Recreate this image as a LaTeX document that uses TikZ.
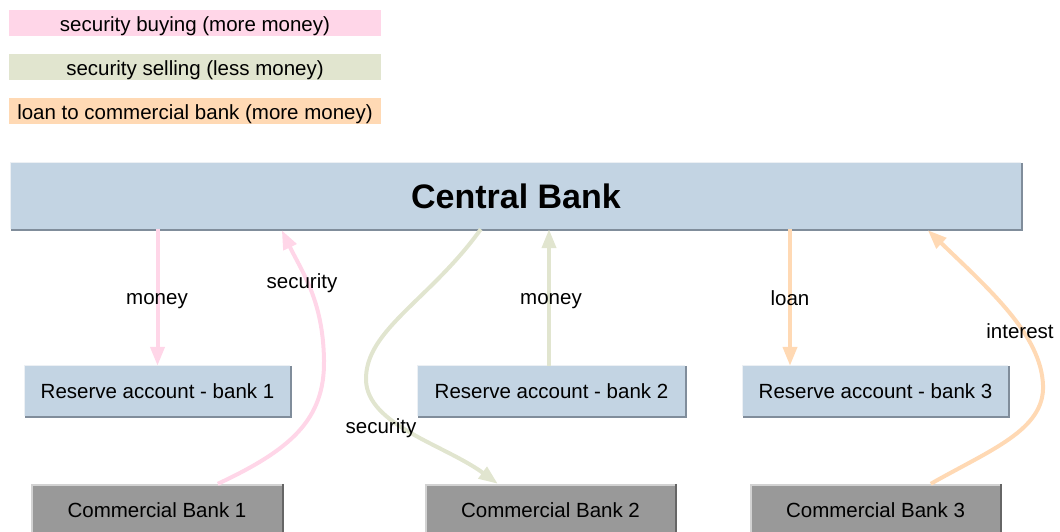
\documentclass[tikz,border=0pt]{standalone}
\usepackage{fontspec}
\setmainfont{Liberation Sans}
\usetikzlibrary{arrows.meta,calc}
\definecolor{boxblue}{RGB}{195,212,227}
\definecolor{blueshadow}{RGB}{128,141,155}
\definecolor{bluelight}{RGB}{236,240,244}
\definecolor{combox}{RGB}{153,153,153}
\definecolor{comshadow}{RGB}{102,102,102}
\definecolor{comlight}{RGB}{210,210,210}
\definecolor{pinkc}{RGB}{255,214,232}
\definecolor{greenc}{RGB}{225,229,207}
\definecolor{orangec}{RGB}{255,217,180}
\tikzset{
  txt/.style={font=\fontsize{20.5}{24}\selectfont},
  legendbox/.style={rectangle, inner sep=0pt, minimum width=372pt, minimum height=26pt, txt, text height=16.5pt, text depth=0pt},
  bluebox/.style={rectangle, fill=boxblue, inner sep=0pt, minimum height=50pt, txt},
  graybox/.style={rectangle, fill=combox, inner sep=0pt, minimum height=52pt, txt},
  flow/.style={line width=4pt, -{Triangle[length=19pt,width=14pt]}},
  lbl/.style={txt, inner sep=0pt}
}
\begin{document}
\begin{tikzpicture}[x=1pt,y=-1pt]
\useasboundingbox (0,0) rectangle (1060,532);
% legend
\node[legendbox, fill=pinkc] (l1) at (195,23) {security buying (more money)};
\node[legendbox, fill=greenc] (l2) at (195,67) {security selling (less money)};
\node[legendbox, fill=orangec] (l3) at (195,111) {loan to commercial bank (more money)};
% central bank
\node[bluebox, minimum width=1010pt, minimum height=66pt, font=\fontsize{34}{39}\selectfont\bfseries] (cb) at (516,196) {Central Bank};
% reserve accounts
\node[bluebox, minimum width=265pt] (r1) at (157.5,391) {Reserve account - bank 1};
\node[bluebox, minimum width=267pt] (r2) at (551.5,391) {Reserve account - bank 2};
\node[bluebox, minimum width=265pt] (r3) at (875.5,391) {Reserve account - bank 3};
% commercial banks
\node[graybox, minimum width=250pt] (c1) at (157,510) {Commercial Bank 1};
\node[graybox, minimum width=249pt] (c2) at (550.5,510) {Commercial Bank 2};
\node[graybox, minimum width=249pt] (c3) at (875.5,510) {Commercial Bank 3};
% box edges
\foreach \n in {cb,r1,r2,r3}{
  \draw[bluelight, line width=1pt] (\n.south west) -- (\n.north west) -- (\n.north east);
  \draw[blueshadow, line width=2pt] ($(\n.north east)+(1,0)$) -- ($(\n.south east)+(1,1)$) -- ($(\n.south west)+(0,1)$);
}
\foreach \n in {c1,c2,c3}{
  \draw[comlight, line width=2pt] (\n.south west) -- ($(\n.north west)+(0,1)$) -- ($(\n.north east)+(0,1)$);
  \draw[comshadow, line width=2pt] ($(\n.north east)+(1,0)$) -- ($(\n.south east)+(1,0)$);
}
% pink: security buying
\draw[flow, pinkc] (cb.south -| r1.north) -- (r1.north);
\node[lbl] (m1) at (157,301) {money};
\coordinate (p1) at ($(c1.north west)+(186,0)$);
\coordinate (p2) at ($(cb.south west)+(271,1)$);
\draw[flow, pinkc] (p1) .. controls (290,450) and (325,420) .. (324,360)
  .. controls (323,300) and (302,272) .. (p2);
\node[lbl] (s1) at (302,283.5) {security};
% green: security selling
\coordinate (g1) at ($(cb.south west)+(470,0)$);
\coordinate (g2) at ($(c2.north west)+(72,0)$);
\draw[flow, greenc] (g1) .. controls (430,300) and (365,330) .. (366,380)
  .. controls (367,425) and (445,445) .. (g2);
\node[lbl] (s2) at (381,428) {security};
\draw[flow, greenc] (r2.north -| 549,0) -- (cb.south -| 549,0);
\node[lbl] (m2) at (551,301) {money};
% orange: loan
\draw[flow, orangec] (cb.south -| 790,0) -- (r3.north -| 790,0);
\node[lbl] (ln) at (790,298) {loan};
\coordinate (o1) at ($(c3.north west)+(180,0)$);
\coordinate (o2) at ($(cb.south west)+(917,1)$);
\draw[flow, orangec] (o1) .. controls (990,450) and (1045,430) .. (1043,385)
  .. controls (1041,335) and (990,290) .. (o2);
\node[lbl] (in) at (1020,331) {interest};
\end{tikzpicture}
\end{document}
